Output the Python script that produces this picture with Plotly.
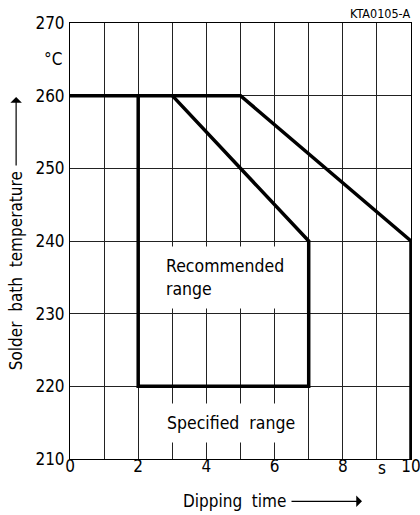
import plotly.graph_objects as go

# --- data ---
outer_x = [0, 5, 10, 10]
outer_y = [260, 260, 240, 210]
inner_x = [3, 7, 7, 2, 2]
inner_y = [260, 240, 220, 220, 260]
x_ticks = [0, 1, 2, 3, 4, 5, 6, 7, 8, 9, 10]
x_ticktext = ["0", "", "2", "", "4", "", "6", "", "8", "", "10"]
y_ticks = [210, 220, 230, 240, 250, 260, 270]
y_ticktext = ["210", "220", "230", "240", "250", "260", "270"]

FONT = "DejaVu Sans Condensed"
BLACK = "#000000"

fig = go.Figure()
fig.add_trace(go.Scatter(x=outer_x, y=outer_y, mode="lines",
                         line=dict(color=BLACK, width=3.5), hoverinfo="skip"))
fig.add_trace(go.Scatter(x=inner_x, y=inner_y, mode="lines",
                         line=dict(color=BLACK, width=3.5), hoverinfo="skip"))

ann = []
# region labels with white background that breaks the grid
ann.append(dict(x=4.72, y=215, xref="x", yref="y", text="Specified  range",
                showarrow=False, xanchor="center", yanchor="middle",
                font=dict(family=FONT, size=17.5, color=BLACK),
                bgcolor="white", borderpad=9))
ann.append(dict(x=2.78, y=235, xref="x", yref="y", text="Recommended<br>range",
                showarrow=False, xanchor="left", yanchor="middle", align="left",
                xshift=-9,
                font=dict(family=FONT, size=17.5, color=BLACK),
                bgcolor="white", borderpad=9))
# unit labels
ann.append(dict(x=0, y=265, xref="paper", yref="y", text="°C", showarrow=False,
                xanchor="right", yanchor="middle", xshift=-6,
                font=dict(family=FONT, size=17, color=BLACK)))
ann.append(dict(x=9.15, y=0, xref="x", yref="paper", text="s", showarrow=False,
                xanchor="center", yanchor="top", yshift=3,
                font=dict(family=FONT, size=17, color=BLACK)))
# code label
ann.append(dict(x=1.003, y=1, xref="paper", yref="paper", text="KTA0105-A",
                showarrow=False, xanchor="right", yanchor="bottom", yshift=0,
                font=dict(family=FONT, size=12.5, color=BLACK)))
# axis titles
ann.append(dict(x=-0.158, y=0.431, xref="paper", yref="paper",
                text="Solder  bath  temperature", textangle=-90, showarrow=False,
                xanchor="center", yanchor="middle",
                font=dict(family=FONT, size=17, color=BLACK)))
ann.append(dict(x=0.481, y=-0.097, xref="paper", yref="paper",
                text="Dipping  time", showarrow=False,
                xanchor="center", yanchor="middle",
                font=dict(family=FONT, size=17, color=BLACK)))
# arrows
ann.append(dict(x=-0.158, y=(459 - 97) / 436, xref="paper", yref="paper",
                ax=0, ay=70, axref="pixel", ayref="pixel", text="",
                showarrow=True, arrowhead=1, arrowsize=1.6, arrowwidth=1.2,
                arrowcolor=BLACK))
ann.append(dict(x=(362 - 70) / 341, y=-0.097, xref="paper", yref="paper",
                ax=-72, ay=0, axref="pixel", ayref="pixel", text="",
                showarrow=True, arrowhead=1, arrowsize=1.6, arrowwidth=1.2,
                arrowcolor=BLACK))

fig.update_layout(
    width=420, height=515,
    margin=dict(l=70, r=9, t=23, b=56, autoexpand=False),
    paper_bgcolor="white", plot_bgcolor="white",
    showlegend=False,
    font=dict(family=FONT, size=17, color=BLACK),
    annotations=ann,
)
fig.update_xaxes(range=[0, 10], tickvals=x_ticks, ticktext=x_ticktext,
                 showgrid=True, gridcolor="#222", gridwidth=1,
                 showline=True, linecolor=BLACK, linewidth=1, mirror=True,
                 ticks="", zeroline=False, ticklabelstandoff=-8,
                 ticklabeloverflow="allow", automargin=False,
                 tickfont=dict(family=FONT, size=17, color=BLACK))
fig.update_yaxes(range=[210, 270], tickvals=y_ticks, ticktext=y_ticktext,
                 showgrid=True, gridcolor="#222", gridwidth=1,
                 showline=True, linecolor=BLACK, linewidth=1, mirror=True,
                 ticks="", zeroline=False, ticklabelstandoff=1,
                 ticklabeloverflow="allow", automargin=False,
                 tickfont=dict(family=FONT, size=17, color=BLACK))

fig.write_html("out.html", config={"displayModeBar": False},
               post_script="document.body.style.margin='0';document.body.style.padding='0';")
